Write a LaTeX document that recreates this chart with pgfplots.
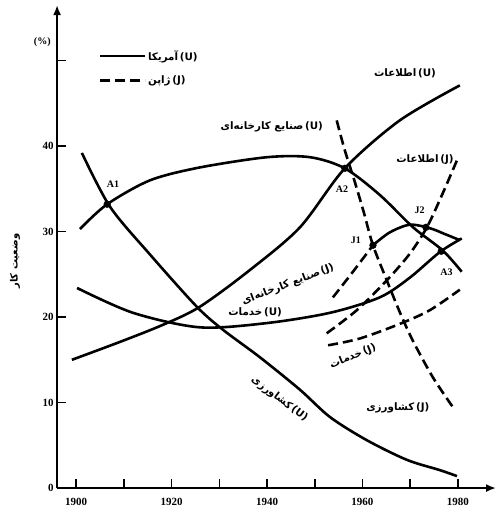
\documentclass[border=0pt]{standalone}
\usepackage{pgfplots}
\pgfplotsset{compat=1.18}
\usepackage{fontspec}
\setmainfont{Liberation Serif}
\newfontfamily\arabicfont[Script=Arabic]{DejaVu Sans}
\usetikzlibrary{arrows.meta}
\TeXXeTstate=1
% Persian label (already wrapped in \beginR..\endR) followed by the country letter
\newcommand{\fa}[2]{{\arabicfont\bfseries\fontsize{10.3}{12}\selectfont #2\,(#1)}}
\begin{document}
\begin{tikzpicture}
\begin{axis}[
    width=439pt, height=483pt, scale only axis,
    xmin=1896, xmax=1988, ymin=0, ymax=56.5,
    axis lines=left,
    axis line style={line width=2pt, -{Latex[length=10pt,width=8pt]}},
    xtick={1900,1910,...,1980},
    xticklabels={1900,,1920,,1940,,1960,,1980},
    ytick={0,10,...,50},
    yticklabels={0,10,20,30,40,},
    tick align=inside,
    major tick length=9pt,
    tick style={line width=1.6pt, black},
    tick label style={font=\fontsize{11}{13}\selectfont\bfseries},
    xticklabel style={yshift=-7pt},
    /pgf/number format/assume math mode=true,
    ylabel={\arabicfont\bfseries\fontsize{10}{12}\selectfont\beginR وضعیت کار\endR},
    ylabel style={at={(axis description cs:-0.096,0.47)}, anchor=center},
    clip=false,
    legend style={draw=none, fill=none, at={(axis description cs:0.087,0.915)},
        anchor=north west, row sep=10pt},
    legend cell align=left,
    legend image code/.code={\draw[#1] (0pt,0pt) -- (45pt,0pt);},
]
\addlegendimage{black, line width=2.6pt}
\addlegendentry{\fa{U}{\beginR آمریکا\endR}}
\addlegendimage{black, line width=2.6pt, dash pattern=on 10pt off 5pt}
\addlegendentry{\fa{J}{\beginR ژاپن\endR}}

% U agriculture
\addplot[black, line width=2.6pt, smooth, forget plot] coordinates {
 (1901.2,39.2) (1907.1,32.9) (1915.5,27.3) (1925.3,21.2) (1930.8,18.5)
 (1938.5,15.3) (1946.9,11.5) (1953.2,8.3) (1960.9,5.6) (1969.3,3.3)
 (1976.2,2.1) (1979.8,1.4)
};
% U industry
\addplot[black, line width=2.6pt, smooth, forget plot] coordinates {
 (1900.8,30.3) (1906.5,33.2) (1915.5,36.0) (1925.9,37.5) (1940.0,38.7)
 (1949.0,38.7) (1956.3,37.4) (1963.6,34.3) (1970.6,30.5) (1976.8,27.8)
 (1980.8,25.3)
};
% U information
\addplot[black, line width=2.6pt, smooth, forget plot] coordinates {
 (1899.1,15.0) (1909.2,17.1) (1918.2,19.1) (1925.9,21.2) (1936.4,25.5)
 (1946.9,30.5) (1956.3,37.4) (1967.8,43.0) (1980.4,47.1)
};
% U services
\addplot[black, line width=2.6pt, smooth, forget plot] coordinates {
 (1900.2,23.4) (1911.9,20.5) (1925.9,18.8) (1940.0,19.3) (1953.2,20.5)
 (1963.6,22.3) (1969.9,24.6) (1976.2,27.6) (1980.8,29.2)
};
% J agriculture
\addplot[black, line width=2.6pt, smooth, dash pattern=on 10pt off 5pt, forget plot] coordinates {
 (1954.6,43.0) (1956.3,39.5) (1958.4,35.8) (1960.3,32.2) (1962.2,28.4)
 (1965.1,24.3) (1967.8,20.6) (1970.5,17.3) (1974.7,13.0) (1978.9,9.5)
};
% J information
\addplot[black, line width=2.6pt, smooth, dash pattern=on 10pt off 5pt, forget plot] coordinates {
 (1952.5,18.1) (1958.8,20.8) (1965.1,24.3) (1969.9,27.4) (1973.5,30.5)
 (1976.6,34.2) (1980.0,38.6)
};
% J industry
\addplot[black, line width=2.6pt, smooth, dash pattern=on 10pt off 5pt, forget plot] coordinates {
 (1953.8,22.3) (1958.0,25.3) (1962.2,28.4)
};
\addplot[black, line width=2.6pt, smooth, forget plot] coordinates {
 (1962.2,28.4) (1965.7,29.9) (1969.9,30.8) (1974.1,30.4) (1977.3,29.7)
 (1980.4,29.0)
};
% J services
\addplot[black, line width=2.6pt, smooth, dash pattern=on 10pt off 5pt, forget plot] coordinates {
 (1952.8,16.7) (1959.5,17.5) (1967.8,19.2) (1974.1,20.8) (1980.4,23.2)
};
% intersection points
\addplot[only marks, mark=*, mark size=3.4pt, black, forget plot] coordinates {
 (1906.5,33.2) (1956.3,37.4) (1976.5,27.7) (1962.2,28.4) (1973.3,30.5)
};

\node[font=\fontsize{10}{12}\selectfont\bfseries] at (axis cs:1907.7,35.5) {A1};
\node[font=\fontsize{10}{12}\selectfont\bfseries] at (axis cs:1955.7,35.0) {A2};
\node[font=\fontsize{10}{12}\selectfont\bfseries] at (axis cs:1977.6,25.3) {A3};
\node[font=\fontsize{10}{12}\selectfont\bfseries] at (axis cs:1958.6,29.0) {J1};
\node[font=\fontsize{10}{12}\selectfont\bfseries] at (axis cs:1972.0,32.5) {J2};
\node[font=\fontsize{10}{12}\selectfont\bfseries] at (axis cs:1892.9,52.2) {(\%)};

\node at (axis cs:1968.9,48.5) {\fa{U}{\beginR اطلاعات\endR}};
\node at (axis cs:1941.0,42.2) {\fa{U}{\beginR صنایع کارخانه‌ای\endR}};
\node at (axis cs:1973.1,38.4) {\fa{J}{\beginR اطلاعات\endR}};
\node[rotate=21] at (axis cs:1944.4,23.8) {\fa{J}{\beginR صنایع کارخانه‌ای\endR}};
\node at (axis cs:1937.5,20.6) {\fa{U}{\beginR خدمات\endR}};
\node[rotate=22] at (axis cs:1958.0,15.4) {\fa{J}{\beginR خدمات\endR}};
\node[rotate=-37] at (axis cs:1942.6,10.4) {\fa{U}{\beginR کشاورزی\endR}};
\node at (axis cs:1967.4,9.4) {\fa{J}{\beginR کشاورزی\endR}};

\path (rel axis cs:-0.13,-0.062) rectangle (rel axis cs:1.0046,1.0104);
\end{axis}
\end{tikzpicture}
\end{document}
